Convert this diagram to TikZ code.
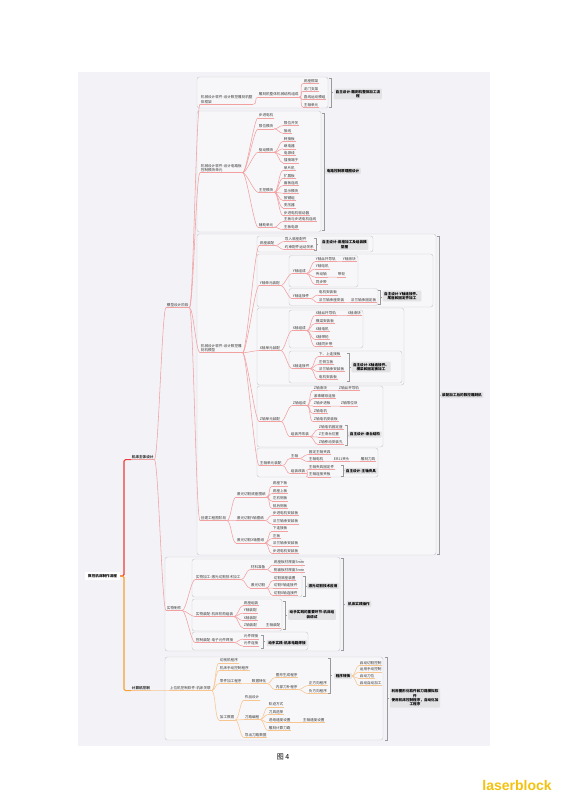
\documentclass[tikz,border=0pt]{standalone}
\usepackage{fontspec}
\setmainfont{Noto Sans CJK SC}
\newfontfamily\wmfont{Liberation Sans}
\usetikzlibrary{calc}
\definecolor{bgp}{HTML}{F3F3F7}
\definecolor{frf}{HTML}{F7F7F9}
\definecolor{frd}{HTML}{CDCDD2}
\definecolor{labf}{HTML}{E3E3E6}
\definecolor{txt}{HTML}{3A3A3A}
\definecolor{rl}{HTML}{F2A0A0}
\definecolor{rt}{HTML}{EE3D3D}
\definecolor{ol}{HTML}{F7C690}
\definecolor{ot}{HTML}{F5A030}
\definecolor{brg}{HTML}{9A9A9A}
\definecolor{wmc}{HTML}{F4C20D}
\newcommand\ft{\fontsize{3.6}{4.4}\selectfont}
\newcommand\ftb{\fontsize{3.6}{4.4}\selectfont\bfseries}
\newcommand\lk[3][cr]{\draw[#1] (#2.south east) .. controls +(4,0) and +(-4,0) .. (#3.south west);}
\newcommand\brk[3]{\draw[brc] (#1-2,#2) -- (#1,#2) -- (#1,#3) -- (#1-2,#3); \draw[brc] (#1,{(#2+#3)/2}) -- ++(2,0);}
\tikzset{
  base/.style={anchor=west, inner xsep=0.7pt, inner ysep=0.7pt, font=\ft, text=txt},
  ulr/.style={draw=rl, line width=0.55pt},
  ulo/.style={draw=ol, line width=0.55pt},
  tr/.style={base, append after command={(\tikzlastnode.south west) edge[ulr] (\tikzlastnode.south east)}},
  tor/.style={base, append after command={(\tikzlastnode.south west) edge[ulo] (\tikzlastnode.south east)}},
  cr/.style={draw=rl, line width=0.55pt},
  co/.style={draw=ol, line width=0.55pt},
  frm/.style={draw=frd, fill=frf, rounded corners=2.5pt, line width=0.45pt},
  lab/.style={fill=labf, font=\ftb, text=black, align=center, inner xsep=1.6pt, inner ysep=1.4pt, rounded corners=1pt},
  brc/.style={draw=brg, line width=0.45pt},
  rootst/.style={anchor=west, fill=white, font=\ftb, text=black, inner xsep=3pt, inner ysep=2.6pt},
}
\begin{document}
\begin{tikzpicture}[x=1pt,y=-1pt]
\useasboundingbox (0,0) rectangle (566,800);
\fill[white] (0,0) rectangle (566,800);
\fill[bgp] (78,72) rectangle (490,746);

% frames
\draw[frm] (197,77) rectangle (328,108);
\draw[frm] (197,111) rectangle (321,232);
\draw[frm] (197,234) rectangle (436,555);
\draw[frm] (257,236) rectangle (373,252);
\draw[frm] (257,254) rectangle (433,307);
\draw[frm] (289,255.5) rectangle (358,287);
\draw[frm] (289,288.5) rectangle (378,305.5);
\draw[frm] (257,308) rectangle (404,385);
\draw[frm] (289,310) rectangle (363,348);
\draw[frm] (289,351) rectangle (402,383);
\draw[frm] (257,386) rectangle (383,447);
\draw[frm] (257,448) rectangle (378,477);
\draw[frm] (165,557) rectangle (340,651);
\draw[frm] (192,559) rectangle (302,597);
\draw[frm] (192,599) rectangle (282,631);
\draw[frm] (192,632) rectangle (308,650);
\draw[frm] (165,657) rectangle (383,740);

% root and trunks
\node[rootst] (root) at (85,576) {数控机床制作流程};
\node[tr, font=\ftb] (zt) at (131,457) {机床主体设计};
\node[tor, font=\ftb] (jk) at (131,688) {计算机控制};
\draw[rt, line width=1.1pt, rounded corners=1.5pt] (root.east) -- (124,576) |- (zt.south west);
\draw[ot, line width=1.1pt, rounded corners=1.5pt] (root.east) -- (124,576) |- (jk.south west);

\node[tr] (mx) at (166,305) {模型设计阶段};
\node[tr] (sw) at (166,608) {实物制作};
\lk{zt}{mx} \lk{zt}{sw}

% F1
\node[tr, align=left] (f1m) at (200,99.5) {机械设计软件-设计数控雕刻机整\\体框架};
\node[tr] (f1a) at (258,94.5) {雕刻机整体机械结构组成};
\node[tr] (f1b1) at (303,81) {底座框架};
\node[tr] (f1b2) at (303,88.7) {龙门支架};
\node[tr] (f1b3) at (303,97) {直线运动模组};
\node[tr] (f1b4) at (303,104.7) {主轴单元};
\lk{mx}{f1m} \lk{f1m}{f1a}
\lk{f1a}{f1b1} \lk{f1a}{f1b2} \lk{f1a}{f1b3} \lk{f1a}{f1b4}
\brk{331}{78}{107}
\node[lab] (f1l) at (358,94) {自主设计-雕刻机整体加工流\\程};

% F2
\node[tr, align=left] (f2m) at (200,168) {机械设计软件-设计电路板\\控制模块单元};
\node[tr] (f2a) at (258,115.3) {步进电机};
\node[tr] (f2b) at (258,126.3) {限位模块};
\node[tr] (f2b1) at (283,123) {限位开关};
\node[tr] (f2b2) at (283,130.7) {接线};
\node[tr] (f2c) at (258,149.7) {驱动模块};
\node[tr] (f2c1) at (283,138.7) {转接板};
\node[tr] (f2c2) at (283,146.3) {继电器};
\node[tr] (f2c3) at (283,153) {电源线};
\node[tr] (f2c4) at (283,160.3) {插接端子};
\node[tr] (f2d) at (258,189.7) {主控模块};
\node[tr] (f2d1) at (283,168) {单片机};
\node[tr] (f2d2) at (283,175.7) {扩展板};
\node[tr] (f2d3) at (283,183) {面板连线};
\node[tr] (f2d4) at (283,190.7) {显示模块};
\node[tr] (f2d5) at (283,198) {按键组};
\node[tr] (f2d6) at (283,205.3) {变压器};
\node[tr] (f2d7) at (283,213) {步进电机驱动器};
\node[tr] (f2e) at (258,224.7) {辅助单元};
\node[tr] (f2e1) at (283,219) {主板与步进电机连线};
\node[tr] (f2e2) at (283,227) {主板电源};
\lk{mx}{f2m}
\lk{f2m}{f2a} \lk{f2m}{f2b} \lk{f2m}{f2c} \lk{f2m}{f2d} \lk{f2m}{f2e}
\lk{f2b}{f2b1} \lk{f2b}{f2b2}
\lk{f2c}{f2c1} \lk{f2c}{f2c2} \lk{f2c}{f2c3} \lk{f2c}{f2c4}
\lk{f2d}{f2d1} \lk{f2d}{f2d2} \lk{f2d}{f2d3} \lk{f2d}{f2d4} \lk{f2d}{f2d5} \lk{f2d}{f2d6} \lk{f2d}{f2d7}
\lk{f2e}{f2e1} \lk{f2e}{f2e2}
\brk{324}{113}{230}
\node[lab] (f2l) at (343,171) {电路控制原理图设计};

% F3
\node[tr, align=left] (f3m) at (200,348) {机械设计软件-设计数控雕\\刻机模型};
\lk{mx}{f3m}
\node[tr] (f3a) at (259,243) {底座装配};
\node[tr] (f3a1) at (284,239) {导入底座配件};
\node[tr] (f3a2) at (284,247) {约束配件运动关系};
\lk{f3m}{f3a} \lk{f3a}{f3a1} \lk{f3a}{f3a2}
\brk{316}{238}{250}
\node[lab] (f3al) at (344.5,244.5) {自主设计-底座加工及组装模\\型图};

\node[tr] (f3y) at (259,283) {Y轴单元装配};
\node[tr] (f3y1) at (292,271) {Y轴组成};
\node[tr] (y1) at (315,259) {Y轴丝杆导轨};
\node[tr] (y1a) at (342,259) {Y轴滑块};
\node[tr] (y2) at (315,266.5) {Y轴电机};
\node[tr] (y3) at (315,274.5) {传动轴};
\node[tr] (y3a) at (337,274.5) {带轮};
\node[tr] (y4) at (315,282) {同步带};
\node[tr] (f3y2) at (292,296) {Y轴连接件};
\node[tr] (y5) at (318,292.5) {电机安装板};
\node[tr] (y6) at (318,300) {法兰轴承座安装};
\node[tr] (y6a) at (350,300) {法兰轴承固定板};
\lk{f3m}{f3y} \lk{f3y}{f3y1} \lk{f3y}{f3y2}
\lk{f3y1}{y1} \lk{y1}{y1a} \lk{f3y1}{y2} \lk{f3y1}{y3} \lk{y3}{y3a} \lk{f3y1}{y4}
\lk{f3y2}{y5} \lk{f3y2}{y6} \lk{y6}{y6a}
\brk{380}{290}{304}
\node[lab] (f3yl) at (402,296) {自主设计-Y轴连接件、\\尾座和固定件加工};

\node[tr] (f3x) at (259,348) {X轴单元装配};
\node[tr] (f3x1) at (292,328) {X轴组成};
\node[tr] (x1) at (315,313) {X轴丝杆导轨};
\node[tr] (x1a) at (347,313) {X轴滑块};
\node[tr] (x2) at (315,321) {横梁安装板};
\node[tr] (x3) at (315,329) {X轴电机};
\node[tr] (x4) at (315,337) {X轴带轮};
\node[tr] (x5) at (315,344) {X轴同步带};
\node[tr] (f3x2) at (292,366) {X轴连接件};
\node[tr] (x6) at (318,354) {下、上连接板};
\node[tr] (x7) at (318,362) {左侧立板};
\node[tr] (x8) at (318,369) {法兰轴承安装板};
\node[tr] (x9) at (318,377) {电机安装板};
\lk{f3m}{f3x} \lk{f3x}{f3x1} \lk{f3x}{f3x2}
\lk{f3x1}{x1} \lk{x1}{x1a} \lk{f3x1}{x2} \lk{f3x1}{x3} \lk{f3x1}{x4} \lk{f3x1}{x5}
\lk{f3x2}{x6} \lk{f3x2}{x7} \lk{f3x2}{x8} \lk{f3x2}{x9}
\brk{349}{353}{381}
\node[lab] (f3xl) at (371,367) {自主设计-X轴连接件、\\横梁和固定板加工};

\node[tr] (f3z) at (259,419) {Z轴单元装配};
\node[tr] (f3z1) at (292,403) {Z轴组成};
\node[tr] (z1) at (313,388) {Z轴滑块};
\node[tr] (z1a) at (338,388) {Z轴丝杆导轨};
\node[tr] (z2) at (313,396) {滚珠螺母连接};
\node[tr] (z3) at (313,403.5) {Z轴步进板};
\node[tr] (z3a) at (340,403.5) {Z轴限位块};
\node[tr] (z4) at (313,411) {Z轴电机};
\node[tr] (z5) at (313,419) {Z轴电机安装板};
\node[tr] (f3z2) at (290,434) {组装并改装};
\node[tr] (z6) at (318,427) {Z轴电机固定座};
\node[tr] (z7) at (318,434.5) {Z主滑台位置};
\node[tr] (z8) at (318,442) {Z轴移动安装孔};
\lk{f3m}{f3z} \lk{f3z}{f3z1} \lk{f3z}{f3z2}
\lk{f3z1}{z1} \lk{z1}{z1a} \lk{f3z1}{z2} \lk{f3z1}{z3} \lk{z3}{z3a} \lk{f3z1}{z4} \lk{f3z1}{z5}
\lk{f3z2}{z6} \lk{f3z2}{z7} \lk{f3z2}{z8}
\brk{347}{425}{445}
\node[lab] (f3zl) at (365,434.5) {自主设计-滑台结构};

\node[tr] (f3s) at (259,463) {主轴单元装配};
\node[tr] (f3s1) at (290,456) {主轴};
\node[tr] (s1) at (308,452) {固定主轴夹具};
\node[tr] (s2) at (308,459) {主轴电机};
\node[tr] (s2a) at (333,459) {ER11夹头};
\node[tr] (s2b) at (360,459) {雕刻刀具};
\node[tr] (f3s2) at (290,471) {组装改装};
\node[tr] (s3) at (308,467) {主轴夹具固定件};
\node[tr] (s4) at (308,474.5) {主轴连接夹板};
\lk{f3m}{f3s} \lk{f3s}{f3s1} \lk{f3s}{f3s2}
\lk{f3s1}{s1} \lk{f3s1}{s2} \lk{s2}{s2a} \lk{s2a}{s2b}
\lk{f3s2}{s3} \lk{f3s2}{s4}
\brk{343}{465}{476}
\node[lab] (f3sl) at (361,471) {自主设计-主轴夹具};

\node[tr] (f3c) at (200,518) {创建工程图阶段};
\node[tr] (c1) at (236,494.5) {激光切割底座图纸};
\node[tr] (c1a) at (272,483.5) {底座下板};
\node[tr] (c1b) at (272,491) {底座上板};
\node[tr] (c1c) at (272,498.5) {左右侧板};
\node[tr] (c1d) at (272,506) {前后侧板};
\node[tr] (c2) at (236,518) {激光切割Y轴图纸};
\node[tr] (c2a) at (272,513) {步进电机安装板};
\node[tr] (c2b) at (272,521.5) {法兰轴承安装板};
\node[tr] (c3) at (236,540.5) {激光切割X轴图纸};
\node[tr] (c3a) at (272,528.5) {下连接板};
\node[tr] (c3b) at (272,536) {左板};
\node[tr] (c3c) at (272,543.5) {法兰轴承安装板};
\node[tr] (c3d) at (272,551) {步进电机安装板};
\lk{mx}{f3c}
\lk{f3c}{c1} \lk{f3c}{c2} \lk{f3c}{c3}
\lk{c1}{c1a} \lk{c1}{c1b} \lk{c1}{c1c} \lk{c1}{c1d}
\lk{c2}{c2a} \lk{c2}{c2b}
\lk{c3}{c3a} \lk{c3}{c3b} \lk{c3}{c3c} \lk{c3}{c3d}
\brk{439}{236}{554}
\node[lab] (f3l) at (462,395) {装配加工后的数控雕刻机};

% F4
\node[tr] (f4a) at (195,577) {实物加工-激光切割技术加工};
\node[tr] (f4a1) at (250,567) {材料准备};
\node[tr] (a1) at (273,562.5) {底座板材厚度5mm};
\node[tr] (a2) at (273,570) {侧面板材厚度3mm};
\node[tr] (f4a2) at (250,585.5) {激光切割};
\node[tr] (a3) at (273,578) {切割底座装置};
\node[tr] (a4) at (273,585.5) {切割Y轴连接件};
\node[tr] (a5) at (273,593) {切割X轴连接件};
\lk{sw}{f4a} \lk{f4a}{f4a1} \lk{f4a}{f4a2}
\lk{f4a1}{a1} \lk{f4a1}{a2} \lk{f4a2}{a3} \lk{f4a2}{a4} \lk{f4a2}{a5}
\brk{305}{576}{596}
\node[lab] (f4al) at (323,586) {激光切割技术应用};

\node[tr] (f4b) at (195,614) {实物装配-机床机构组装};
\node[tr] (b1) at (243,603) {底座组装};
\node[tr] (b2) at (243,610.5) {Y轴装配};
\node[tr] (b3) at (243,618) {X轴装配};
\node[tr] (b4) at (243,625.5) {Z轴装配};
\node[tr] (b4a) at (265,625.5) {主轴装配};
\lk{sw}{f4b} \lk{f4b}{b1} \lk{f4b}{b2} \lk{f4b}{b3} \lk{f4b}{b4} \lk{b4}{b4a}
\brk{285}{601}{629}
\node[lab] (f4bl) at (312,614.5) {动手实践的重要环节-机床组\\装调试};

\node[tr] (f4c) at (195,640) {控制装配-电子元件焊接};
\node[tr] (c4a) at (243,636.5) {元件焊接};
\node[tr] (c4b) at (243,643.5) {元件连接};
\lk{sw}{f4c} \lk{f4c}{c4a} \lk{f4c}{c4b}
\brk{263}{635}{648}
\node[lab] (f4cl) at (287,643) {动手实践-机床电路焊接};
\brk{343}{558}{650}
\node[lab] (f4l) at (359,604) {机床实践操作};

% F5
\node[tor] (f5m) at (169,688) {上位机控制软件-机床关联};
\node[tor] (f5a) at (219,660.5) {切削机程序};
\node[tor] (f5b) at (219,668) {机床手动控制程序};
\node[tor] (f5c) at (219,681) {零件加工程序};
\node[tor] (f5c1) at (251,681) {数据转化};
\node[tor] (f5c2) at (275,675) {图形生成程序};
\node[tor] (f5c3) at (275,687) {内部刀补程序};
\node[tor] (f5c4) at (308,683) {正方向程序};
\node[tor] (f5c5) at (308,691) {负方向程序};
\node[tor] (f5d) at (219,717.5) {加工数据};
\node[tor] (f5d1) at (244,697.5) {作品设计};
\node[tor] (f5d2) at (244,717) {刀路编程};
\node[tor] (f5d3) at (244,735) {导出刀路数据};
\node[tor] (d1) at (268,704.5) {轨迹方式};
\node[tor] (d2) at (268,712) {刀具选择};
\node[tor] (d3) at (268,720) {进给速度设置};
\node[tor] (d3a) at (302,720) {主轴速度设置};
\node[tor] (d4) at (268,728) {雕刻计算刀路};
\lk[co]{jk}{f5m}
\lk[co]{f5m}{f5a} \lk[co]{f5m}{f5b} \lk[co]{f5m}{f5c} \lk[co]{f5m}{f5d}
\lk[co]{f5c}{f5c1} \lk[co]{f5c1}{f5c2} \lk[co]{f5c1}{f5c3}
\lk[co]{f5c3}{f5c4} \lk[co]{f5c3}{f5c5}
\lk[co]{f5d}{f5d1} \lk[co]{f5d}{f5d2} \lk[co]{f5d}{f5d3}
\lk[co]{f5d2}{d1} \lk[co]{f5d2}{d2} \lk[co]{f5d2}{d3} \lk[co]{d3}{d3a} \lk[co]{f5d2}{d4}
\brk{330}{658}{693}
\node[lab] (f5l1) at (343,676) {程序转换};
\node[tor] (e1) at (359,663) {启动切割控制};
\node[tor] (e2) at (359,669.5) {运用手动控制};
\node[tor] (e3) at (359,676) {启动刀位};
\node[tor] (e4) at (359,683) {启动自动加工};
\foreach \e in {e1,e2,e3,e4}{\draw[co] (f5l1.east) .. controls +(3,0) and +(-3,0) .. (\e.south west);}
\brk{387}{657}{740}
\node[lab] (f5l) at (415,698) {利用图形化软件和刀路模拟软\\件\\使用机床控制程序，自动化加\\工程序};

% caption and watermark
\node[font=\fontsize{7}{8}\selectfont, text=black] (cap) at (283,757) {图 4};
\node[font=\wmfont\bfseries\fontsize{14}{16}\selectfont, text=wmc] (wm) at (517,785) {laserblock};
\end{tikzpicture}
\end{document}
